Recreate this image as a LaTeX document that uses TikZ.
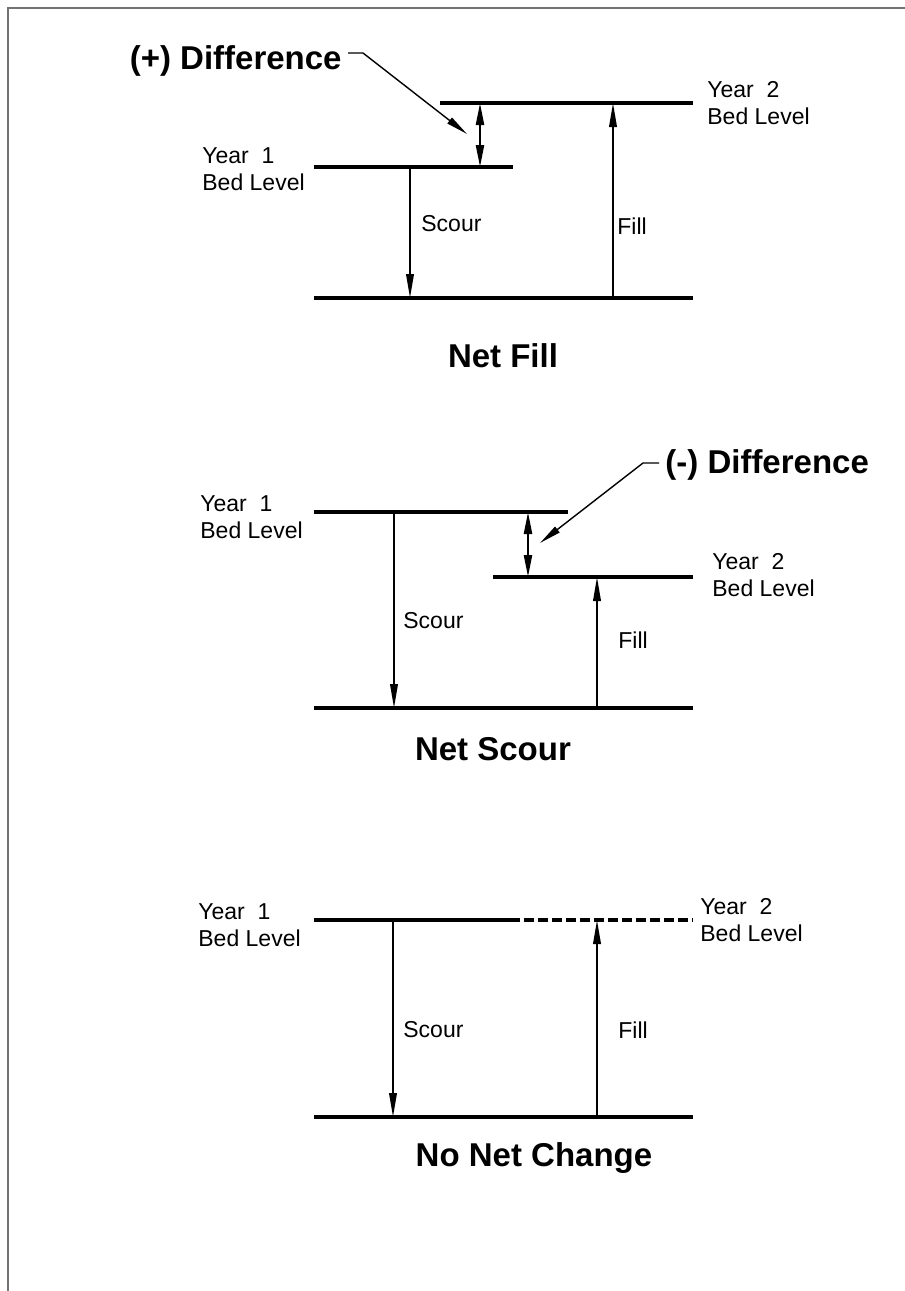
\documentclass[tikz,border=0pt]{standalone}
\usepackage{fontspec}
\setmainfont{Liberation Sans}
\usetikzlibrary{arrows.meta,positioning}

\begin{document}
\begin{tikzpicture}[
  x=0.5pt,y=-0.5pt,
  font=\fontsize{11.5}{13.5}\selectfont,
  level/.style={line width=1.7pt},
  arr/.style={-{Triangle[length=12pt,width=3.8pt]},line width=0.9pt},
  dbl/.style={{Triangle[length=11pt,width=4pt]}-{Triangle[length=11pt,width=4pt]},line width=1.1pt},
  lead/.style={-{Triangle[length=11pt,width=3.6pt]},line width=0.7pt},
  lbl/.style={align=left,inner sep=0pt,anchor=north west},
  txt/.style={inner sep=0pt,anchor=west},
  ttl/.style={font=\fontsize{16.5}{19}\selectfont\bfseries,inner sep=0pt,anchor=base},
  diff/.style={font=\fontsize{16.5}{19}\selectfont\bfseries,inner sep=3pt},
  frame/.style={draw=black!55,line width=1pt}
]
\useasboundingbox (0,0) rectangle (905,1291);
\draw[frame] (905,8) -- (8,8) -- (8,1291);

% net fill
\coordinate (f1a) at (314,167); \coordinate (f1b) at (513,167);
\coordinate (f2a) at (440,103); \coordinate (f2b) at (693,103);
\coordinate (f0a) at (314,298); \coordinate (f0b) at (693,298);
\coordinate (fsc) at (410,0); \coordinate (ffl) at (613,0); \coordinate (fdf) at (480,0);
\draw[level] (f1a) -- (f1b);
\draw[level] (f2a) -- (f2b);
\draw[level] (f0a) -- (f0b);
\draw[arr] (f1a -| fsc) -- (f0a -| fsc);
\draw[arr] (f0a -| ffl) -- (f2a -| ffl);
\draw[dbl] (f2a -| fdf) -- (f1a -| fdf);
\node[lbl] (f1lbl) at (202,147) {Year\ \ 1\\Bed Level};
\node[lbl] (f2lbl) at (707,81) {Year\ \ 2\\Bed Level};
\node[txt] (fscl) at (421,224) {Scour};
\node[txt] (ffll) at (617,226) {Fill};
\node[diff,anchor=base east] (pdiff) at (348,69) {(+) Difference};
\coordinate (pknee) at (363,53); \coordinate (ptip) at (467,134);
\draw[lead] (pdiff.east |- pknee) -- (pknee) -- (ptip);
\node[ttl] (fttl) at (503,367) {Net Fill};

% net scour
\coordinate (s1a) at (314,512); \coordinate (s1b) at (568,512);
\coordinate (s2a) at (493,577); \coordinate (s2b) at (693,577);
\coordinate (s0a) at (314,708); \coordinate (s0b) at (693,708);
\coordinate (ssc) at (394,0); \coordinate (sfl) at (597,0); \coordinate (sdf) at (528,0);
\draw[level] (s1a) -- (s1b);
\draw[level] (s2a) -- (s2b);
\draw[level] (s0a) -- (s0b);
\draw[arr] (s1a -| ssc) -- (s0a -| ssc);
\draw[arr] (s0a -| sfl) -- (s2a -| sfl);
\draw[dbl] (s1a -| sdf) -- (s2a -| sdf);
\node[lbl] (s1lbl) at (200,495) {Year\ \ 1\\Bed Level};
\node[lbl] (s2lbl) at (712,553) {Year\ \ 2\\Bed Level};
\node[txt] (sscl) at (403,621) {Scour};
\node[txt] (sfll) at (618,640) {Fill};
\node[diff,anchor=base west] (ndiff) at (659,473) {(-) Difference};
\coordinate (nknee) at (643,463); \coordinate (ntip) at (540,543);
\draw[lead] (ndiff.west |- nknee) -- (nknee) -- (ntip);
\node[ttl] (sttl) at (493,760) {Net Scour};

% no net change
\coordinate (c1a) at (314,920); \coordinate (c1b) at (510,920);
\coordinate (c2b) at (693,920);
\coordinate (c0a) at (314,1117); \coordinate (c0b) at (693,1117);
\coordinate (csc) at (393,0); \coordinate (cfl) at (597,0);
\draw[level] (c1a) -- (c1b);
\draw[level,dashed,dash pattern=on 5pt off 2pt] (c1b) -- (c2b);
\draw[level] (c0a) -- (c0b);
\draw[arr] (c1a -| csc) -- (c0a -| csc);
\draw[arr] (c0a -| cfl) -- (c1a -| cfl);
\node[lbl] (c1lbl) at (198,903) {Year\ \ 1\\Bed Level};
\node[lbl] (c2lbl) at (700,898) {Year\ \ 2\\Bed Level};
\node[txt] (cscl) at (403,1030) {Scour};
\node[txt] (cfll) at (618,1030) {Fill};
\node[ttl] (cttl) at (534,1166) {No Net Change};
\end{tikzpicture}
\end{document}
